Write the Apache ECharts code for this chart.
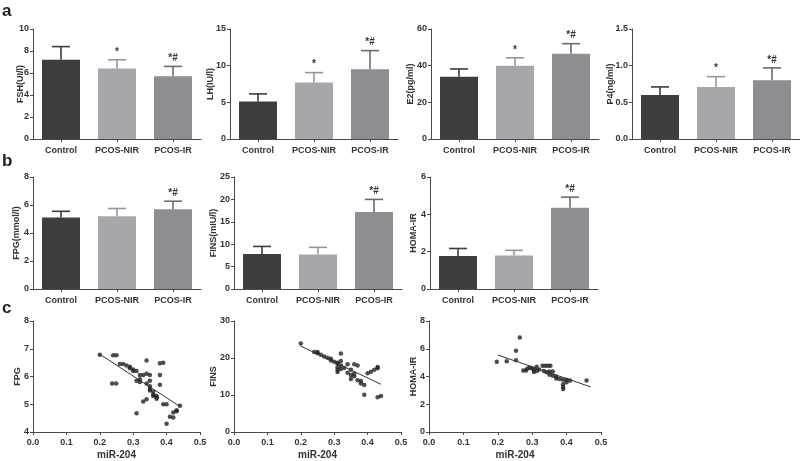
<!DOCTYPE html>
<html>
<head>
<meta charset="utf-8">
<script src="https://cdn.jsdelivr.net/npm/echarts@6/dist/echarts.min.js"></script>
<style>html,body{margin:0;padding:0;background:#fff}#c{width:800px;height:461px}</style>
</head>
<body>
<div id="c"></div>
<script>
// ---------- data ----------
const cats = ['Control', 'PCOS-NIR', 'PCOS-IR'];
const barColors = ['#3d3d40', '#a6a7aa', '#8d8e91'];
const errColors = ['#3d3d40', '#96979a', '#6a6b6e'];

const fshMean = [7.2, 6.4, 5.7],  fshSd = [1.2, 0.8, 0.9];
const lhMean  = [5.1, 7.7, 9.5],  lhSd  = [1.05, 1.35, 2.55];
const e2Mean  = [34, 40, 46.5],   e2Sd  = [4.2, 4.3, 5.5];
const p4Mean  = [0.6, 0.71, 0.8], p4Sd  = [0.11, 0.14, 0.17];
const fpgMean = [5.1, 5.2, 5.7],  fpgSd = [0.45, 0.55, 0.57];
const finsMean = [7.8, 7.7, 17.2], finsSd = [1.7, 1.6, 2.8];
const homaMean = [1.77, 1.8, 4.35], homaSd = [0.4, 0.27, 0.57];
const sigA = ['', '*', '*#'];
const sigB = ['', '', '*#'];

const fpgPts = [[0.20,6.78],[0.24,6.77],[0.25,6.77],[0.237,5.75],[0.249,5.75],[0.26,6.45],[0.27,6.45],[0.28,6.40],[0.29,6.35],[0.29,6.30],[0.30,6.25],[0.30,6.20],[0.31,6.20],[0.31,5.85],[0.32,5.80],[0.32,5.90],[0.32,6.05],[0.33,6.05],[0.33,5.10],[0.31,4.68],[0.34,6.58],[0.34,6.10],[0.34,5.75],[0.34,5.18],[0.35,6.05],[0.35,5.85],[0.35,5.65],[0.35,5.55],[0.35,5.50],[0.36,5.45],[0.36,5.35],[0.36,5.30],[0.37,5.30],[0.37,5.25],[0.37,5.20],[0.38,6.48],[0.38,6.05],[0.38,5.70],[0.39,6.50],[0.39,5.00],[0.40,5.00],[0.40,4.30],[0.41,4.55],[0.42,4.52],[0.42,4.70],[0.43,4.75],[0.43,4.78],[0.44,4.95]];
const fpgFit = [[0.20, 6.8], [0.44, 4.92]];

const finsPts = [[0.20,23.9],[0.24,21.6],[0.25,21.6],[0.25,21.3],[0.26,20.9],[0.27,20.4],[0.28,20.1],[0.29,19.8],[0.29,19.3],[0.30,19.0],[0.31,18.7],[0.31,18.5],[0.32,21.2],[0.32,19.2],[0.32,18.0],[0.31,17.5],[0.31,16.8],[0.31,16.2],[0.32,17.0],[0.33,17.3],[0.34,18.3],[0.34,16.0],[0.35,16.8],[0.35,15.4],[0.35,14.3],[0.36,18.3],[0.37,18.0],[0.36,15.8],[0.36,15.1],[0.37,14.0],[0.38,13.8],[0.38,13.1],[0.39,12.7],[0.39,10.1],[0.40,15.9],[0.41,16.3],[0.42,16.8],[0.43,17.2],[0.43,17.6],[0.43,9.4],[0.44,9.7]];
const finsFit = [[0.20, 23.2], [0.44, 12.9]];

const homaPts = [[0.197,5.07],[0.226,5.1],[0.253,5.17],[0.253,5.85],[0.264,6.81],[0.274,4.44],[0.282,4.44],[0.286,4.58],[0.293,4.63],[0.30,4.58],[0.305,4.5],[0.305,4.33],[0.313,4.7],[0.313,4.4],[0.32,4.5],[0.33,4.78],[0.338,4.78],[0.346,4.78],[0.353,4.78],[0.334,4.4],[0.342,4.3],[0.35,4.36],[0.36,4.36],[0.35,4.13],[0.36,4.06],[0.37,4.0],[0.37,3.85],[0.38,3.82],[0.39,3.77],[0.40,3.77],[0.39,3.45],[0.39,3.25],[0.39,3.1],[0.40,3.58],[0.41,3.72],[0.458,3.72]];
const homaFit = [[0.20, 5.55], [0.47, 3.25]];

// ---------- layout ----------
const FONT = 'Liberation Sans, Arial, sans-serif';
const TXT = '#333';
const AX = '#4a4a4a';

const barPanels = [
  {name: 'FSH(UI/l)',   mean: fshMean,  sd: fshSd,  sig: sigA, max: 10,  interval: 2,   dec: 0, left: 33,  top: 29,  h: 110, gap: 8},
  {name: 'LH(IU/l)',    mean: lhMean,   sd: lhSd,   sig: sigA, max: 15,  interval: 5,   dec: 0, left: 230, top: 29,  h: 110, gap: 14.5},
  {name: 'E2(pg/ml)',   mean: e2Mean,   sd: e2Sd,   sig: sigA, max: 60,  interval: 20,  dec: 0, left: 431, top: 29,  h: 110, gap: 16},
  {name: 'P4(ng/ml)',   mean: p4Mean,   sd: p4Sd,   sig: sigA, max: 1.5, interval: 0.5, dec: 1, left: 632, top: 29,  h: 110, gap: 17},
  {name: 'FPG(mmol/l)', mean: fpgMean,  sd: fpgSd,  sig: sigB, max: 8,   interval: 2,   dec: 0, left: 33,  top: 177, h: 112, gap: 11.5},
  {name: 'FINS(mIU/l)', mean: finsMean, sd: finsSd, sig: sigB, max: 25,  interval: 5,   dec: 0, left: 234, top: 177, h: 112, gap: 15.5},
  {name: 'HOMA-IR',     mean: homaMean, sd: homaSd, sig: sigB, max: 6,   interval: 2,   dec: 0, left: 430, top: 177, h: 112, gap: 12}
];
const scatterPanels = [
  {name: 'FPG',     pts: fpgPts,  fit: fpgFit,  min: 4, max: 8,  interval: 1,  left: 33,  w: 167, gap: 11},
  {name: 'FINS',    pts: finsPts, fit: finsFit, min: 0, max: 30, interval: 10, left: 234, w: 167, gap: 16},
  {name: 'HOMA-IR', pts: homaPts, fit: homaFit, min: 0, max: 8,  interval: 2,  left: 429, w: 172, gap: 11}
];

const grid = [], xAxis = [], yAxis = [], series = [];
const axisLine = {show: true, lineStyle: {color: AX, width: 1}};
const axisTick = {show: true, length: 3, lineStyle: {color: AX, width: 1}};
const lab = {color: TXT, fontFamily: FONT, fontWeight: 'bold', fontSize: 9};
const nameStyle = {color: TXT, fontFamily: FONT, fontWeight: 'bold', fontSize: 9};

barPanels.forEach((p, i) => {
  grid.push({left: p.left, top: p.top, width: 168, height: p.h});
  xAxis.push({type: 'category', gridIndex: i, data: cats, boundaryGap: true,
    axisLine, axisTick: Object.assign({alignWithLabel: true}, axisTick),
    axisLabel: Object.assign({margin: 7, interval: 0}, lab)});
  yAxis.push({type: 'value', gridIndex: i, min: 0, max: p.max, interval: p.interval,
    splitLine: {show: false}, axisLine, axisTick,
    axisLabel: Object.assign({margin: 4, formatter: v => v.toFixed(p.dec)}, lab),
    name: p.name, nameLocation: 'middle', nameGap: p.gap, nameMoveOverlap: false,
    nameTextStyle: nameStyle});
  series.push({type: 'bar', xAxisIndex: i, yAxisIndex: i, barWidth: 38,
    data: p.mean.map((v, k) => ({value: v, itemStyle: {color: barColors[k]}})), z: 2});
  series.push({type: 'custom', xAxisIndex: i, yAxisIndex: i, z: 3,
    data: p.mean.map((v, k) => [k, v, p.sd[k]]),
    renderItem: (params, api) => {
      const k = api.value(0), m = api.value(1), s = api.value(2);
      const a = api.coord([k, m]), b = api.coord([k, m + s]);
      const col = errColors[params.dataIndex];
      const st = {stroke: col, lineWidth: 1.6};
      return {type: 'group', children: [
        {type: 'line', shape: {x1: a[0], y1: a[1], x2: b[0], y2: b[1]}, style: st},
        {type: 'line', shape: {x1: b[0] - 9, y1: b[1], x2: b[0] + 9, y2: b[1]}, style: st},
        {type: 'text', style: {text: p.sig[params.dataIndex], x: b[0], y: b[1] - 3,
          align: 'center', verticalAlign: 'bottom', fill: TXT,
          font: 'bold 10px ' + FONT}}
      ]};
    }});
});

scatterPanels.forEach((p, j) => {
  const i = barPanels.length + j;
  grid.push({left: p.left, top: 321, width: p.w, height: 112});
  xAxis.push({type: 'value', gridIndex: i, min: 0, max: 0.5, interval: 0.1,
    splitLine: {show: false}, axisLine, axisTick,
    axisLabel: Object.assign({margin: 6, formatter: v => v.toFixed(1)}, lab),
    name: 'miR-204', nameLocation: 'middle', nameGap: 18, nameMoveOverlap: false,
    nameTextStyle: {color: TXT, fontFamily: FONT, fontWeight: 'bold', fontSize: 10}});
  yAxis.push({type: 'value', gridIndex: i, min: p.min, max: p.max, interval: p.interval,
    splitLine: {show: false}, axisLine, axisTick,
    axisLabel: Object.assign({margin: 4}, lab),
    name: p.name, nameLocation: 'middle', nameGap: p.gap, nameMoveOverlap: false,
    nameTextStyle: nameStyle});
  series.push({type: 'scatter', xAxisIndex: i, yAxisIndex: i, data: p.pts,
    symbol: 'circle', symbolSize: 4.5, itemStyle: {color: '#222'}});
  series.push({type: 'line', xAxisIndex: i, yAxisIndex: i, data: p.fit,
    symbol: 'none', lineStyle: {color: '#333', width: 1}});
});

const chart = echarts.init(document.getElementById('c'), null, {renderer: 'canvas'});
chart.setOption({
  animation: false,
  grid, xAxis, yAxis, series,
  graphic: [
    {type: 'text', left: 2, top: 3, style: {text: 'a', font: 'bold 17px ' + FONT, fill: '#222'}},
    {type: 'text', left: 2, top: 153, style: {text: 'b', font: 'bold 17px ' + FONT, fill: '#222'}},
    {type: 'text', left: 2, top: 300, style: {text: 'c', font: 'bold 17px ' + FONT, fill: '#222'}}
  ]
});
</script>
</body>
</html>
